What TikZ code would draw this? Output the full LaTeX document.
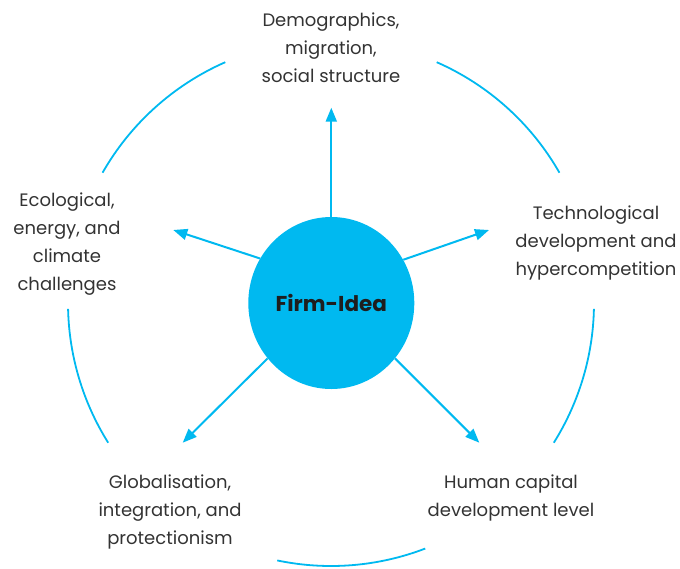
\documentclass[tikz,border=0pt]{standalone}
\usepackage{fontspec}
\setmainfont{Poppins}
\usetikzlibrary{arrows.meta,shapes.geometric}
\definecolor{skyb}{HTML}{00B9F0}
\definecolor{txt}{HTML}{333333}
\definecolor{dark}{HTML}{1E1E1E}
\tikzset{
  ring/.style={draw=skyb,line width=1.8pt},
  ray/.style={draw=skyb,line width=2pt,-{Triangle[length=14pt,width=11pt]}},
  lbl/.style={align=center,text=txt,font=\fontsize{18}{28}\selectfont,inner sep=0pt},
}
\begin{document}
\begin{tikzpicture}[x=1pt,y=-1pt]
\useasboundingbox (0,0) rectangle (680,568);
\coordinate (c) at (331,303);
% outer ring arcs
\draw[ring] ([shift={(-150.3:263)}]c) arc[start angle=-150.3,end angle=-113.7,radius=263];
\draw[ring] ([shift={(-66.3:263)}]c) arc[start angle=-66.3,end angle=-29.7,radius=263];
\draw[ring] ([shift={(1.3:263)}]c) arc[start angle=1.3,end angle=32.1,radius=263];
\draw[ring] ([shift={(69:263)}]c) arc[start angle=69,end angle=101.8,radius=263];
\draw[ring] ([shift={(147.9:263)}]c) arc[start angle=147.9,end angle=178.7,radius=263];
% centre
\node[ellipse,fill=skyb,minimum width=166pt,minimum height=172pt,inner sep=0pt,
      font=\bfseries\fontsize{21.5}{24}\selectfont,text=dark] (firm) at (331.3,303) {Firm-Idea};
% labels
\node[lbl] (demo) at (331,48) {Demographics,\\migration,\\social structure};
\node[lbl] (eco) at (67,244) {Ecological,\\energy, and\\climate\\challenges};
\node[lbl] (tech) at (596,243) {Technological\\development and\\hypercompetition};
\node[lbl] (glob) at (170,512) {Globalisation,\\integration, and\\protectionism};
\node[lbl] (hum) at (511,498) {Human capital\\development level};
% arrow tips
\coordinate (tdemo) at (331.3,107.7);
\coordinate (teco) at (173.3,230);
\coordinate (ttech) at (489,230);
\coordinate (tglob) at (182.7,442.7);
\coordinate (thum) at (479.3,442.7);
\draw[ray] (firm.north) -- (tdemo);
\draw[ray] (firm.148.2) -- (teco);
\draw[ray] (firm.31.4) -- (ttech);
\draw[ray] (firm.-139.3) -- (tglob);
\draw[ray] (firm.-41.2) -- (thum);
\end{tikzpicture}
\end{document}
